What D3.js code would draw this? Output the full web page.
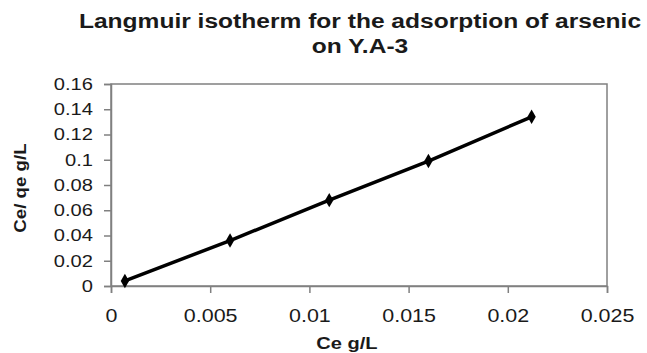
<!DOCTYPE html>
<html>
<head>
<meta charset="utf-8">
<script src="https://cdn.jsdelivr.net/npm/d3@7"></script>
<style>
  body { margin: 0; background: #fff; }
  text { font-family: "Liberation Sans", Arial, sans-serif; fill: #1a1a1a; }
</style>
</head>
<body>
<svg id="chart" width="647" height="353"></svg>
<script>
const ceValues = [0.0007, 0.006, 0.011, 0.016, 0.0212];
const ceQeValues = [0.004, 0.036, 0.068, 0.099, 0.134];
const xTicks = [0, 0.005, 0.01, 0.015, 0.02, 0.025];
const yTicks = [0, 0.02, 0.04, 0.06, 0.08, 0.1, 0.12, 0.14, 0.16];
const titleLines = ['Langmuir isotherm for the adsorption of arsenic', 'on Y.A-3'];

const svg = d3.select('#chart');
const margin = { left: 111, right: 40, top: 84, bottom: 67 };
const w = 647 - margin.left - margin.right;
const h = 353 - margin.top - margin.bottom;

// the source picture is a bit wider than tall, so text gets a small horizontal stretch
const stretch = 1.13;

const x = d3.scaleLinear().domain([0, 0.025]).range([0, w]);
const y = d3.scaleLinear().domain([0, 0.16]).range([h, 0]);

const g = svg.append('g').attr('transform', `translate(${margin.left},${margin.top})`);

// plot frame
g.append('rect')
  .attr('width', w).attr('height', h)
  .attr('fill', 'none').attr('stroke', '#808080').attr('stroke-width', 1.5);

const fmt = d => (d === 0 ? '0' : String(+d.toFixed(3)));

const xAxis = g.append('g')
  .attr('transform', `translate(0,${h})`)
  .call(d3.axisBottom(x).tickValues(xTicks).tickSize(7).tickPadding(15).tickFormat(fmt));

const yAxis = g.append('g')
  .call(d3.axisLeft(y).tickValues(yTicks).tickSize(7).tickPadding(11).tickFormat(fmt));

[xAxis, yAxis].forEach(a => {
  a.select('.domain').attr('stroke', '#808080').attr('stroke-width', 1.5);
  a.selectAll('.tick line').attr('stroke', '#808080').attr('stroke-width', 1.5);
  a.selectAll('.tick text')
    .attr('fill', '#1a1a1a')
    .style('font-family', '"Liberation Sans", Arial, sans-serif');
});

xAxis.selectAll('.tick text')
  .style('font-size', '19px')
  .each(function () {
    const t = d3.select(this);
    const ty = +t.attr('y');
    t.attr('y', 0).attr('transform', `translate(0,${ty}) scale(${stretch},1)`);
  });

yAxis.selectAll('.tick text')
  .style('font-size', '16.5px')
  .each(function () {
    const t = d3.select(this);
    const tx = +t.attr('x');
    t.attr('x', 0).attr('transform', `translate(${tx},0) scale(1.22,1)`);
  });

// series
const pts = ceValues.map((v, i) => [v, ceQeValues[i]]);
g.append('path')
  .datum(pts)
  .attr('fill', 'none')
  .attr('stroke', '#000')
  .attr('stroke-width', 3.5)
  .attr('d', d3.line().x(d => x(d[0])).y(d => y(d[1])));

g.selectAll('.pt')
  .data(pts)
  .enter().append('path')
  .attr('class', 'pt')
  .attr('transform', d => `translate(${x(d[0])},${y(d[1])})`)
  .attr('d', d3.symbol().type(d3.symbolDiamond).size(60))
  .attr('fill', '#000');

// title
svg.append('g')
  .attr('transform', `translate(360,0) scale(${stretch + 0.04},1)`)
  .append('text')
  .attr('text-anchor', 'middle')
  .style('font-size', '21px').style('font-weight', 'bold')
  .selectAll('tspan')
  .data(titleLines)
  .enter().append('tspan')
  .attr('x', 0)
  .attr('y', (d, i) => 28 + i * 25)
  .text(d => d);

// axis titles
svg.append('text')
  .attr('transform', `translate(347,349) scale(${stretch + 0.05},1)`)
  .attr('text-anchor', 'middle')
  .style('font-size', '17px').style('font-weight', 'bold')
  .text('Ce g/L');

svg.append('text')
  .attr('transform', `translate(26,188) rotate(-90) scale(1.1,1)`)
  .attr('text-anchor', 'middle')
  .style('font-size', '17px').style('font-weight', 'bold')
  .text('Ce/ qe g/L');
</script>
</body>
</html>
